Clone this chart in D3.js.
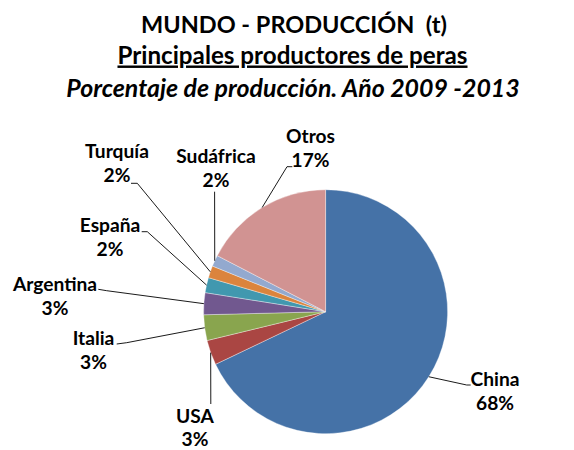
<!DOCTYPE html>
<html>
<head>
    <meta charset="utf-8">
    <title>Principales productores de peras</title>
    <script src="https://cdn.jsdelivr.net/npm/d3@7"></script>
    <style>
        body { margin: 0; background: #fff; }
        text { font-family: Lato, "Open Sans", sans-serif; font-weight: bold; fill: #000; white-space: pre; }
        .leader { fill: none; stroke: #000; stroke-width: 0.9px; }
    </style>
</head>
<body>
<div id="chart"></div>
<script>
    // data
    const countries = ["China", "USA", "Italia", "Argentina", "España", "Turquía", "Sudáfrica", "Otros"];
    const shares = [67.9, 3.3, 3.4, 2.9, 2.0, 1.6, 1.5, 17.4];
    const colors = ["#4572A7", "#AA4643", "#89A54E", "#71588F", "#4198AF", "#DB843D", "#93A9CF", "#D19392"];
    const titles = ["MUNDO - PRODUCCIÓN  (t)", "Principales productores de peras", "Porcentaje de producción. Año 2009 -2013"];

    // label placement (text centre x, name baseline y, gap to % line, leader bend + attach points)
    const labelLayout = {
        "China":     {x: 495,   y: 386, dy: 24, via: [[466.7, 385], [470.7, 385]]},
        "USA":       {x: 195,   y: 423, dy: 23, via: [[210.8, 404]]},
        "Italia":    {x: 93.5,  y: 345, dy: 24, via: [[126.7, 342.7], [116.7, 344]]},
        "Argentina": {x: 55,    y: 291, dy: 24, via: [[106.7, 290.7], [98.3, 289.3]]},
        "España":    {x: 110,   y: 232, dy: 24, via: [[147.3, 231.7], [141.7, 231.7]]},
        "Turquía":   {x: 117,   y: 158, dy: 24, via: [[137.3, 183.3], [131, 183.3]]},
        "Sudáfrica": {x: 216,   y: 163, dy: 24, via: [[214.6, 191.7]]},
        "Otros":     {x: 310.5, y: 143, dy: 24, via: [[287, 166.7], [292.3, 166.7]]}
    };

    const width = 574, height = 450;
    const cx = 325.6, cy = 311.7, r = 122;

    const svg = d3.select("#chart").append("svg")
        .attr("width", width)
        .attr("height", height);

    // titles
    svg.append("text")
        .attr("x", 294).attr("y", 33)
        .attr("text-anchor", "middle")
        .style("font-size", "23.5px")
        .text(titles[0]);
    svg.append("text")
        .attr("x", 292.5).attr("y", 63.5)
        .attr("text-anchor", "middle")
        .style("font-size", "24.2px")
        .style("text-decoration", "underline")
        .text(titles[1]);
    svg.append("text")
        .attr("x", 293).attr("y", 97)
        .attr("text-anchor", "middle")
        .style("font-size", "24.9px")
        .style("font-style", "italic")
        .text(titles[2]);

    const data = countries.map((c, i) => ({name: c, value: shares[i], color: colors[i]}));

    const pie = d3.pie().sort(null).value(d => d.value);
    const arc = d3.arc().innerRadius(0).outerRadius(r);
    const edge = d3.arc().innerRadius(r).outerRadius(r);
    const arcs = pie(data);

    const g = svg.append("g").attr("transform", `translate(${cx},${cy})`);

    g.selectAll("path.slice")
        .data(arcs)
        .join("path")
        .attr("class", "slice")
        .attr("d", arc)
        .attr("fill", d => d.data.color)
        .attr("stroke", "#fff")
        .attr("stroke-opacity", 0.6)
        .attr("stroke-width", 0.6);

    // leader lines
    const line = d3.line();
    svg.selectAll("path.leader")
        .data(arcs)
        .join("path")
        .attr("class", "leader")
        .attr("d", d => {
            const p = edge.centroid(d);
            const pts = [[cx + p[0], cy + p[1]]].concat(labelLayout[d.data.name].via);
            return line(pts);
        });

    // labels
    const labels = svg.selectAll("g.label")
        .data(arcs)
        .join("g")
        .attr("class", "label");

    labels.append("text")
        .attr("x", d => labelLayout[d.data.name].x)
        .attr("y", d => labelLayout[d.data.name].y)
        .attr("text-anchor", "middle")
        .style("font-size", "19.2px")
        .text(d => d.data.name);

    labels.append("text")
        .attr("x", d => labelLayout[d.data.name].x)
        .attr("y", d => labelLayout[d.data.name].y + labelLayout[d.data.name].dy)
        .attr("text-anchor", "middle")
        .style("font-size", "19.2px")
        .text(d => Math.round(d.data.value) + "%");
</script>
</body>
</html>
